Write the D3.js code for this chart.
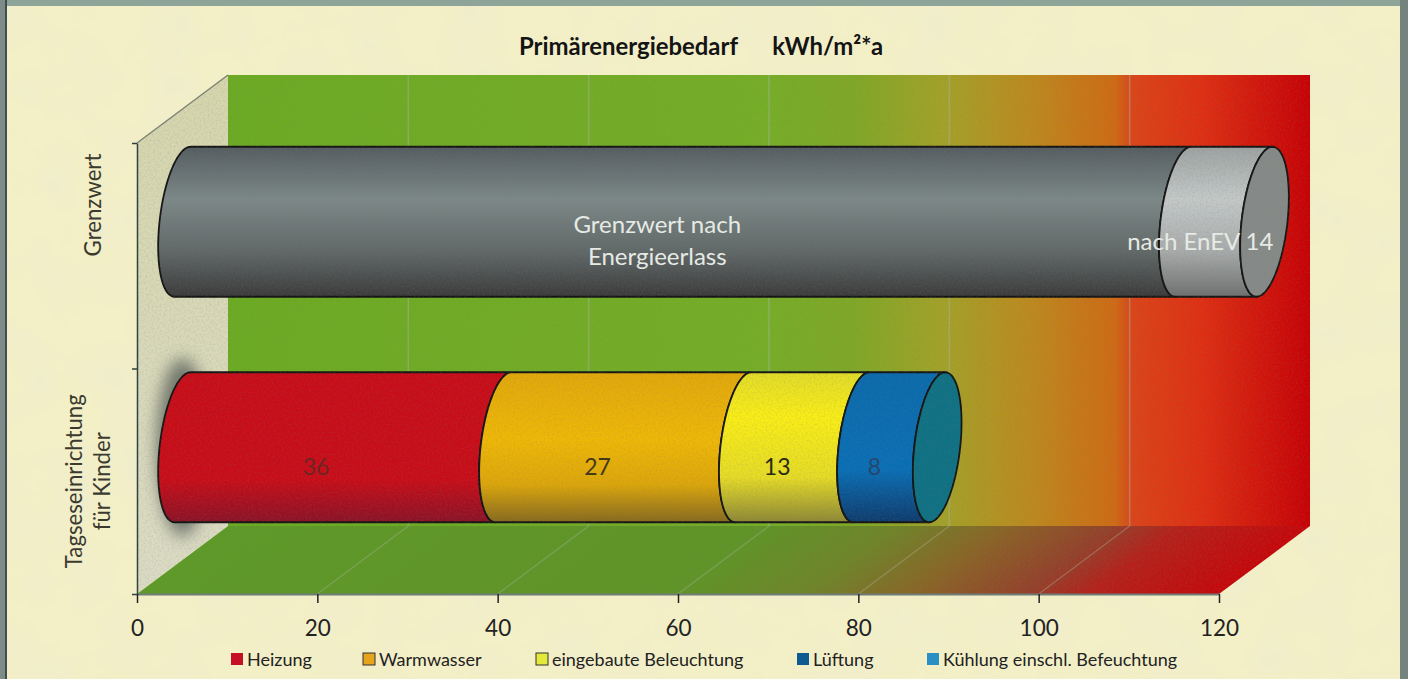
<!DOCTYPE html>
<html>
<head>
<meta charset="utf-8">
<script src="https://cdn.jsdelivr.net/npm/d3@7"></script>
<style>
  html, body { margin: 0; padding: 0; background: #f3efc6; overflow: hidden; }
  svg { display: block; }
  text { font-family: Lato, "Open Sans", sans-serif; }
</style>
</head>
<body>
<svg id="chart" width="1408" height="679"></svg>
<script>
// values
const categories = ["Tagseseinrichtung|für Kinder", "Grenzwert"];
const xTicks = [0, 20, 40, 60, 80, 100, 120];
const kidsValues = [35.6, 26.6, 13.1, 8.4]; // labels on the bar are these rounded
const limitValues = [111, 9];
const limitLabels = ["Grenzwert nach|Energieerlass", "nach EnEV 14"];
const legendNames = ["Heizung", "Warmwasser", "eingebaute Beleuchtung", "Lüftung", "Kühlung einschl. Befeuchtung"];
const legendColors = ["#c40f25", "#e5a41c", "#e4ea3a", "#0f5a90", "#2a90c4"];

const width = 1408, height = 679;
const svg = d3.select("#chart");
const defs = svg.append("defs");

// plot box, depth is the 3d offset of the back wall
const plotLeft = 137, plotRight = 1219, plotBottom = 594, plotTop = 143;
const depthX = 91, depthY = -68;

const x = d3.scaleLinear().domain([0, 120]).range([plotLeft, plotRight]);
const y = d3.scaleBand().domain(categories).range([plotBottom, plotTop]).paddingInner(0.335).paddingOuter(0.1675);
const yEdges = d3.scaleLinear().domain([0, 2]).range([plotBottom, plotTop]);

// ---- gradients
function addGradient(id, stops, vertical) {
  const g = defs.append("linearGradient").attr("id", id)
    .attr("x1", 0).attr("y1", 0)
    .attr("x2", vertical ? 0 : 1).attr("y2", vertical ? 1 : 0);
  stops.forEach(s => g.append("stop").attr("offset", s[0]).attr("stop-color", s[1]));
}
addGradient("wall", [[0, "#6bab22"], [0.5, "#76ae26"], [0.58, "#80a826"], [0.66, "#a3a228"], [0.74, "#bd8a1d"], [0.82, "#cf6a14"], [0.835, "#dc4418"], [0.9, "#df2e12"], [1, "#c70005"]]);
addGradient("floor", [[0, "#5d9a26"], [0.5, "#5f9426"], [0.62, "#6f8428"], [0.72, "#8a6426"], [0.82, "#94402a"], [0.88, "#b5201a"], [1, "#c6060a"]]);
addGradient("sidewall", [[0, "#d6d7ad"], [1, "#dcdcc6"]], true);
addGradient("seg0", [[0, "#c80c18"], [0.72, "#c80c18"], [1, "#8a1226"]], true);
addGradient("seg1", [[0, "#e2a80a"], [0.45, "#f0b806"], [0.75, "#dca60a"], [1, "#86691e"]], true);
addGradient("seg2", [[0, "#e2dc28"], [0.3, "#faee16"], [0.7, "#e6dc26"], [1, "#8d8736"]], true);
addGradient("seg3", [[0, "#0a6aac"], [0.65, "#086eb6"], [1, "#0d3b6e"]], true);
addGradient("limit0", [[0, "#545c60"], [0.35, "#7c8888"], [0.7, "#606868"], [1, "#3b3a3b"]], true);
addGradient("limit1", [[0, "#9da2a2"], [0.35, "#c4c9c9"], [0.7, "#a8abab"], [1, "#6e7070"]], true);

// ---- paper texture, scan grain and blur
const paper = defs.append("filter").attr("id", "paper").attr("x", 0).attr("y", 0).attr("width", 1).attr("height", 1);
paper.append("feTurbulence").attr("type", "fractalNoise").attr("baseFrequency", 0.02).attr("numOctaves", 4).attr("seed", 4);
paper.append("feColorMatrix").attr("values", "0 0 0 0 0.85  0 0 0 0 0.84  0 0 0 0 0.62  1.1 0 0 0 -0.38");
const grain = defs.append("filter").attr("id", "grain").attr("x", 0).attr("y", 0).attr("width", 1).attr("height", 1);
grain.append("feTurbulence").attr("type", "fractalNoise").attr("baseFrequency", 0.5).attr("numOctaves", 2).attr("seed", 9);
grain.append("feColorMatrix").attr("values", "0 0 0 0 0.2  0 0 0 0 0.2  0 0 0 0 0.15  0.4 0 0 0 -0.16");
defs.append("filter").attr("id", "blur").attr("x", "-50%").attr("width", "200%").attr("y", "-20%").attr("height", "140%")
  .append("feGaussianBlur").attr("stdDeviation", 8);

svg.append("rect").attr("width", width).attr("height", height).attr("fill", "#f3efc6");
svg.append("rect").attr("width", width).attr("height", height).attr("filter", "url(#paper)");

// scan border
svg.append("rect").attr("width", width).attr("height", 6).attr("fill", "#8fa498");
svg.append("rect").attr("width", 5).attr("height", height).attr("fill", "#7d8c88");
svg.append("rect").attr("x", 5).attr("width", 2).attr("height", height).attr("fill", "#3f4f50");
svg.append("rect").attr("x", 1400).attr("width", 8).attr("height", height).attr("fill", "#75837f");

// ---- 3d box
const box = svg.append("g");
const skew = Math.atan(depthX / depthY) * 180 / Math.PI;

// outline of the whole box, used to keep the grain inside it
const boxOutline = [
  [x(0), yEdges(2)], [x(0) + depthX, yEdges(2) + depthY],
  [x(120) + depthX, yEdges(2) + depthY], [x(120) + depthX, yEdges(0) + depthY],
  [x(120), yEdges(0)], [x(0), yEdges(0)]
];
defs.append("clipPath").attr("id", "boxClip")
  .append("path").attr("d", d3.line()(boxOutline) + "Z");

// back wall
box.append("rect")
  .attr("x", x(0) + depthX).attr("y", yEdges(2) + depthY)
  .attr("width", x(120) - x(0)).attr("height", yEdges(0) - yEdges(2))
  .attr("fill", "url(#wall)");

// left wall
box.append("path")
  .attr("d", d3.line()([
    [x(0), yEdges(2)], [x(0) + depthX, yEdges(2) + depthY],
    [x(0) + depthX, yEdges(0) + depthY], [x(0), yEdges(0)]
  ]) + "Z")
  .attr("fill", "url(#sidewall)");
box.append("line")
  .attr("x1", x(0)).attr("y1", yEdges(2))
  .attr("x2", x(0) + depthX).attr("y2", yEdges(2) + depthY)
  .attr("stroke", "#7d8478").attr("stroke-width", 1.5);

// floor, the skew carries the gradient along the depth lines
box.append("rect")
  .attr("transform", `translate(${x(0)},${yEdges(0)}) skewX(${skew})`)
  .attr("width", x(120) - x(0)).attr("height", -depthY).attr("y", depthY)
  .attr("fill", "url(#floor)");

// gridlines
const gridVals = xTicks.filter(d => d > 0 && d < 120);
box.selectAll(".gw").data(gridVals).join("line")
  .attr("class", "gw")
  .attr("x1", d => x(d) + depthX).attr("x2", d => x(d) + depthX)
  .attr("y1", yEdges(2) + depthY).attr("y2", yEdges(0) + depthY)
  .attr("stroke", "#a9b5a0").attr("stroke-opacity", 0.45).attr("stroke-width", 1.5);
box.selectAll(".gf").data(gridVals).join("line")
  .attr("class", "gf")
  .attr("x1", d => x(d)).attr("x2", d => x(d) + depthX)
  .attr("y1", yEdges(0)).attr("y2", yEdges(0) + depthY)
  .attr("stroke", "#a9b5a0").attr("stroke-opacity", 0.4).attr("stroke-width", 1.2);

// ---- axes
const xAxis = svg.append("g")
  .attr("transform", `translate(0,${yEdges(0)})`)
  .call(d3.axisBottom(x).tickValues(xTicks).tickSize(9).tickPadding(17).tickSizeOuter(0));
xAxis.select(".domain").attr("stroke", "#6f7d78").attr("stroke-width", 2);
xAxis.selectAll(".tick line").attr("stroke", "#222").attr("stroke-width", 1.5);
xAxis.selectAll("text").attr("font-size", 22.5).attr("font-family", "Lato").attr("fill", "#222");

const yAxis = svg.append("g")
  .attr("transform", `translate(${x(0)},0)`)
  .call(d3.axisLeft(yEdges).tickValues([0, 1, 2]).tickFormat("").tickSize(5).tickSizeOuter(0));
yAxis.select(".domain").attr("stroke", "#2c4040").attr("stroke-width", 1.5);
yAxis.selectAll(".tick line").attr("stroke", "#2c4040").attr("stroke-width", 1.5);

// category labels, two lines where the name has a |
categories.forEach(c => {
  const g = svg.append("g")
    .attr("transform", `translate(${c === "Grenzwert" ? 93.5 : 89},${c === "Grenzwert" ? 205 : y(c) + y.bandwidth() / 2}) rotate(-90)`);
  const lines = c.split("|");
  lines.forEach((l, i) => {
    g.append("text").attr("text-anchor", "middle")
      .attr("y", (i - (lines.length - 1) / 2) * 28 + 7)
      .attr("font-size", 22.2).attr("fill", "#3a3a30").text(l);
  });
});

// ---- cylinders
const capA = 23, capB = 8;
const half = y.bandwidth() / 2;

// point on the tilted end ellipse of a bar, t=-90deg is the top, t=90deg the bottom
function capPoint(v, cy, t) {
  const cx = x(v) + depthX / 2;
  return [cx + capA * Math.cos(t) - capB * Math.sin(t), cy + half * Math.sin(t)];
}
// left half of the ellipse going top to bottom
const arcAngles = d3.range(0, 41).map(i => -Math.PI / 2 - i * Math.PI / 40);
const fullAngles = d3.range(0, 80).map(i => i * Math.PI / 40);
const leftArc = (v, cy) => arcAngles.map(t => capPoint(v, cy, t));

function drawBar(cat, values, fills, capFill) {
  const cy = y(cat) + half + depthY / 2;
  const g = svg.append("g");
  let start = 0;
  values.forEach((v, i) => {
    const end = start + v;
    const pts = leftArc(start, cy).concat(leftArc(end, cy).reverse());
    g.append("path")
      .attr("d", d3.line()(pts) + "Z")
      .attr("fill", fills[i])
      .attr("stroke", "#141414").attr("stroke-width", 1.8);
    start = end;
  });
  g.append("path")
    .attr("d", d3.line()(fullAngles.map(t => capPoint(start, cy, t))) + "Z")
    .attr("fill", capFill)
    .attr("stroke", "#141414").attr("stroke-width", 1.8);
  return cy;
}

// soft shadow behind the lower bar only
svg.append("ellipse")
  .attr("cx", x(0) + depthX / 2).attr("cy", y(categories[0]) + half + depthY / 2)
  .attr("rx", 26).attr("ry", half + 14)
  .attr("fill", "#4d5450").attr("opacity", 0.75).attr("filter", "url(#blur)");

const kidsY = drawBar(categories[0], kidsValues, ["url(#seg0)", "url(#seg1)", "url(#seg2)", "url(#seg3)"], "#0e7184");
const limitY = drawBar(categories[1], limitValues, ["url(#limit0)", "url(#limit1)"], "#858a88");

// grain over the whole plot, the scan is noisy there
svg.append("g").attr("clip-path", "url(#boxClip)")
  .append("rect")
  .attr("x", x(0)).attr("y", yEdges(2) + depthY)
  .attr("width", x(120) - x(0) + depthX).attr("height", yEdges(0) - yEdges(2) - depthY)
  .attr("filter", "url(#grain)");

// ---- labels on the bars, they sit on the front plane of the cylinder
const labelX = d3.scaleLinear().domain([0, 120]).range([x(0) + 18, x(120) + 22]);
const kidsColors = ["#6e2424", "#46391a", "#2a2a12", "#27476e"];
let run = 0;
kidsValues.forEach((v, i) => {
  svg.append("text")
    .attr("x", labelX(run + v / 2)).attr("y", kidsY + 28)
    .attr("text-anchor", "middle").attr("font-size", 23)
    .attr("fill", kidsColors[i]).text(d3.format(".0f")(v));
  run += v;
});

run = 0;
limitValues.forEach((v, i) => {
  const lines = limitLabels[i].split("|");
  lines.forEach((l, j) => {
    svg.append("text")
      .attr("x", labelX(run + v / 2))
      .attr("y", limitY + (lines.length > 1 ? 11 + j * 32 : 28))
      .attr("text-anchor", "middle").attr("font-size", 24)
      .attr("fill", "#e6eae4").text(l);
  });
  run += v;
});

// ---- title
svg.append("text")
  .attr("x", 519).attr("y", 55)
  .attr("font-size", 23.9).attr("font-weight", 700).attr("fill", "#141414")
  .style("white-space", "pre")
  .text("Primärenergiebedarf      kWh/m²*a");

// ---- legend
const legendPos = [231, 363, 536, 797, 927];
const legend = svg.append("g");
legendNames.forEach((name, i) => {
  const outlined = i === 1 || i === 2;
  legend.append("rect")
    .attr("x", legendPos[i]).attr("y", 653).attr("width", 12).attr("height", 12)
    .attr("fill", legendColors[i])
    .attr("stroke", outlined ? "#333" : "none").attr("stroke-width", 1);
  legend.append("text")
    .attr("x", legendPos[i] + 16).attr("y", 666)
    .attr("font-size", 18).attr("fill", "#222").text(name);
});
</script>
</body>
</html>
